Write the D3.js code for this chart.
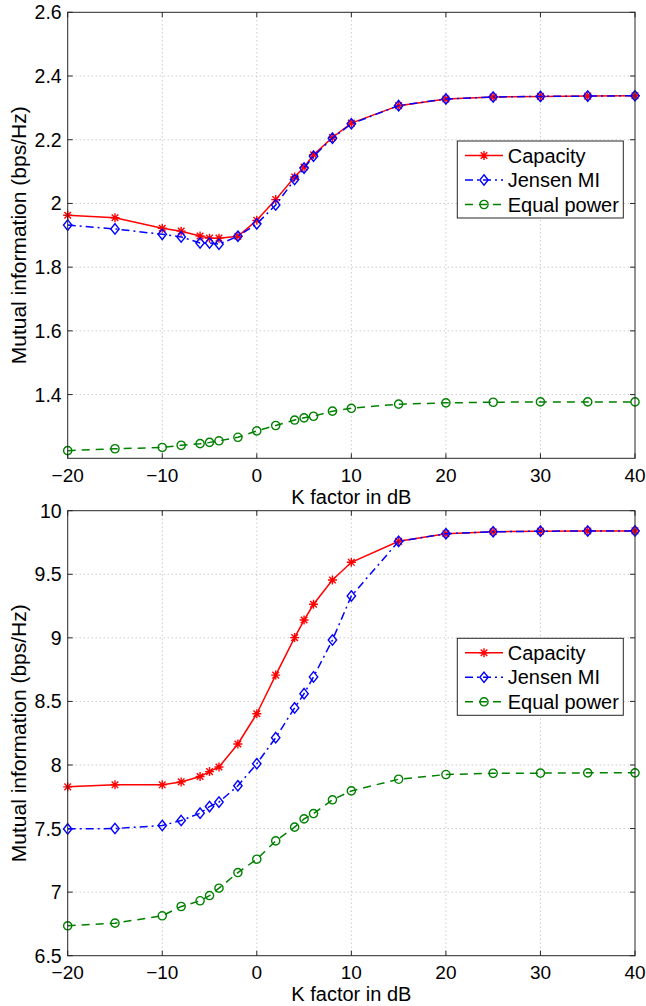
<!DOCTYPE html>
<html>
<head>
<meta charset="utf-8">
<script src="https://cdn.jsdelivr.net/npm/d3@7"></script>
<style>
  html, body { margin: 0; padding: 0; background: #ffffff; }
  svg text { font-family: "Liberation Sans", Arial, Helvetica, sans-serif; }
</style>
</head>
<body>
<svg id="chart" width="646" height="1006"></svg>
<script>
// K factor (dB) sample points, shared by both panels
const kFactor = [-20, -15, -10, -8, -6, -5, -4, -2, 0, 2, 4, 5, 6, 8, 10, 15, 20, 25, 30, 35, 40];

// top panel
const capacityTop = [1.963, 1.955, 1.922, 1.913, 1.898, 1.891, 1.891, 1.897, 1.947, 2.012, 2.083, 2.114, 2.153, 2.207, 2.252, 2.307, 2.328, 2.334, 2.336, 2.337, 2.338];
const jensenTop = [1.932, 1.920, 1.903, 1.895, 1.876, 1.876, 1.872, 1.897, 1.936, 1.995, 2.075, 2.111, 2.148, 2.205, 2.250, 2.307, 2.328, 2.334, 2.336, 2.337, 2.338];
const equalTop = [1.224, 1.230, 1.234, 1.241, 1.246, 1.250, 1.255, 1.266, 1.286, 1.303, 1.320, 1.327, 1.332, 1.348, 1.357, 1.370, 1.374, 1.376, 1.377, 1.377, 1.377];

// bottom panel
const capacityBottom = [7.828, 7.844, 7.844, 7.867, 7.909, 7.948, 7.984, 8.165, 8.403, 8.707, 9.002, 9.140, 9.264, 9.455, 9.594, 9.759, 9.819, 9.834, 9.839, 9.840, 9.841];
const jensenBottom = [7.497, 7.500, 7.524, 7.563, 7.621, 7.673, 7.708, 7.837, 8.010, 8.215, 8.449, 8.561, 8.693, 8.983, 9.329, 9.759, 9.819, 9.834, 9.839, 9.840, 9.841];
const equalBottom = [6.735, 6.756, 6.814, 6.887, 6.932, 6.973, 7.031, 7.154, 7.259, 7.403, 7.511, 7.576, 7.618, 7.726, 7.796, 7.888, 7.925, 7.935, 7.936, 7.938, 7.938];

const xTicks = [-20, -10, 0, 10, 20, 30, 40];
const yTicksTop = [1.4, 1.6, 1.8, 2, 2.2, 2.4, 2.6];
const yTicksBottom = [6.5, 7, 7.5, 8, 8.5, 9, 9.5, 10];
const seriesNames = ["Capacity", "Jensen MI", "Equal power"];

const svg = d3.select("#chart");
const left = 67.7, right = 635;
const axisColor = "#262626";
const gridColor = "#b4b4b4";

const styles = [
  { color: "#ff0000", dash: null, marker: "star" },
  { color: "#0000ff", dash: "8,4,2,4", marker: "diamond" },
  { color: "#008000", dash: "8,6", marker: "circle" }
];

function fmt(v) {
  return String(v).replace("-", "\u2212");
}

function drawMarker(g, kind, color) {
  if (kind === "star") {
    const s = 4.5, d = 3.3;
    g.append("path")
      .attr("d", "M0," + -s + "L0," + s + "M" + -s + ",0L" + s + ",0M" + -d + "," + -d + "L" + d + "," + d + "M" + -d + "," + d + "L" + d + "," + -d)
      .attr("stroke", color).attr("stroke-width", 1.4).attr("fill", "none");
  } else if (kind === "diamond") {
    g.append("path").attr("d", "M0,-5.2L4.2,0L0,5.2L-4.2,0Z")
      .attr("stroke", color).attr("stroke-width", 1.4).attr("fill", "none");
  } else {
    g.append("circle").attr("r", 4.1)
      .attr("stroke", color).attr("stroke-width", 1.4).attr("fill", "none");
  }
}

function drawPanel(top, bottom, yDomain, yTicks, seriesList, legendTop) {
  const x = d3.scaleLinear().domain([-20, 40]).range([left, right]);
  const y = d3.scaleLinear().domain(yDomain).range([bottom, top]);
  const g = svg.append("g");

  // dotted grid
  g.selectAll(".gx").data(xTicks.slice(1, -1)).join("line")
    .attr("x1", d => x(d)).attr("x2", d => x(d)).attr("y1", top).attr("y2", bottom)
    .attr("stroke", gridColor).attr("stroke-width", 1).attr("stroke-dasharray", "1,3");
  g.selectAll(".gy").data(yTicks.filter(t => t > yDomain[0] && t < yDomain[1])).join("line")
    .attr("x1", left).attr("x2", right).attr("y1", d => y(d)).attr("y2", d => y(d))
    .attr("stroke", gridColor).attr("stroke-width", 1).attr("stroke-dasharray", "1,3");

  // inward tick marks on all four sides
  const tl = 5;
  xTicks.forEach(t => {
    g.append("line").attr("x1", x(t)).attr("x2", x(t)).attr("y1", bottom).attr("y2", bottom - tl).attr("stroke", axisColor);
    g.append("line").attr("x1", x(t)).attr("x2", x(t)).attr("y1", top).attr("y2", top + tl).attr("stroke", axisColor);
  });
  yTicks.forEach(t => {
    g.append("line").attr("x1", left).attr("x2", left + tl).attr("y1", y(t)).attr("y2", y(t)).attr("stroke", axisColor);
    g.append("line").attr("x1", right).attr("x2", right - tl).attr("y1", y(t)).attr("y2", y(t)).attr("stroke", axisColor);
  });

  // series
  const line = d3.line().x((d, i) => x(kFactor[i])).y(d => y(d));
  seriesList.forEach((vals, si) => {
    const st = styles[si];
    g.append("path").datum(vals).attr("d", line)
      .attr("fill", "none").attr("stroke", st.color).attr("stroke-width", 1.5)
      .attr("stroke-dasharray", st.dash);
    vals.forEach((v, i) => {
      const m = g.append("g").attr("transform", "translate(" + x(kFactor[i]) + "," + y(v) + ")");
      drawMarker(m, st.marker, st.color);
    });
  });

  // box
  g.append("rect").attr("x", left).attr("y", top).attr("width", right - left).attr("height", bottom - top)
    .attr("fill", "none").attr("stroke", axisColor).attr("stroke-width", 1);

  // tick labels
  g.selectAll(".xl").data(xTicks).join("text")
    .attr("x", d => x(d)).attr("y", bottom + 23.5)
    .attr("text-anchor", "middle").attr("font-size", 19).attr("fill", "#000")
    .text(fmt);
  g.selectAll(".yl").data(yTicks).join("text")
    .attr("x", left - 6).attr("y", d => y(d) + 7)
    .attr("text-anchor", "end").attr("font-size", 19.5).attr("fill", "#000")
    .text(fmt);

  // axis labels
  g.append("text").attr("x", (left + right) / 2).attr("y", bottom + 45.5)
    .attr("text-anchor", "middle").attr("font-size", 20).attr("fill", "#000")
    .text("K factor in dB");
  g.append("text")
    .attr("transform", "translate(26," + (top + bottom) / 2 + ") rotate(-90)")
    .attr("text-anchor", "middle").attr("font-size", 21).attr("fill", "#000")
    .text("Mutual information (bps/Hz)");

  // legend
  const lx = 457.3, lw = 166, lh = 77;
  g.append("rect").attr("x", lx).attr("y", legendTop).attr("width", lw).attr("height", lh)
    .attr("fill", "#ffffff").attr("stroke", axisColor).attr("stroke-width", 1);
  seriesNames.forEach((name, si) => {
    const st = styles[si];
    const ry = legendTop + 14.5 + si * 24.5;
    g.append("line").attr("x1", 465).attr("x2", 503).attr("y1", ry).attr("y2", ry)
      .attr("stroke", st.color).attr("stroke-width", 1.5).attr("stroke-dasharray", st.dash);
    const m = g.append("g").attr("transform", "translate(484," + ry + ")");
    drawMarker(m, st.marker, st.color);
    g.append("text").attr("x", 507.7).attr("y", ry + 7)
      .attr("font-size", 20).attr("fill", "#000").text(name);
  });
}

drawPanel(12.3, 458.3, [1.2, 2.6], yTicksTop, [capacityTop, jensenTop, equalTop], 141);
drawPanel(510.7, 955.7, [6.5, 10], yTicksBottom, [capacityBottom, jensenBottom, equalBottom], 638.3);
</script>
</body>
</html>
